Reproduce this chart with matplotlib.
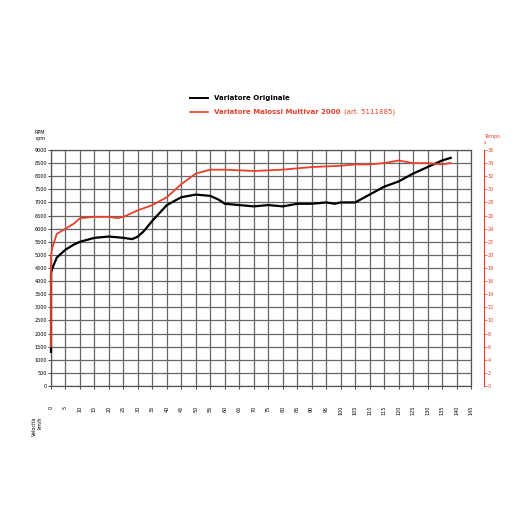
import matplotlib
matplotlib.use("Agg")
import matplotlib.pyplot as plt
from matplotlib.transforms import offset_copy

speed_black = [0,0,0.5,2,5,8,10,15,20,25,28,30,32,35,40,45,50,55,58,60,65,70,75,80,85,90,95,98,100,105,110,115,120,125,130,135,138]
rpm_black = [1300,4300,4500,4900,5200,5400,5500,5650,5700,5650,5600,5700,5900,6300,6900,7200,7300,7250,7100,6950,6900,6850,6900,6850,6950,6950,7000,6950,7000,7000,7300,7600,7800,8100,8350,8600,8700]
speed_red = [0,0,0.5,2,5,8,10,15,20,23,25,30,35,40,45,50,55,60,70,80,90,100,105,110,115,120,125,130,135,138]
rpm_red = [1500,5000,5300,5800,6000,6200,6400,6450,6450,6400,6450,6700,6900,7200,7700,8100,8250,8250,8200,8250,8350,8400,8450,8450,8500,8600,8500,8500,8450,8500]
x_ticks = list(range(0,150,5))
rpm_ticks = list(range(0,9001,500))
tempo_ticks = list(range(0,37,2))

fig = plt.figure(figsize=(5.2,5.2), dpi=100)
ax = fig.add_axes([51/520, 1-386/520, 420/520, 236/520])
ax.plot(speed_black, rpm_black, color='black', lw=1.6, clip_on=False, zorder=5)
ax.plot(speed_red, rpm_red, color='#e8402a', lw=1.3, clip_on=False, zorder=5)
ax.set_xlim(0,145); ax.set_ylim(0,9000)
ax.set_xticks(x_ticks); ax.set_yticks(rpm_ticks)
ax.set_xticklabels([str(v) for v in x_ticks], rotation=90, fontsize=3.5)
ax.set_yticklabels([str(v) for v in rpm_ticks], fontsize=3.5)
ax.grid(True, color='#666666', lw=0.9)
for s in ax.spines.values(): s.set_color('#555555'); s.set_linewidth(0.9)
ax.tick_params(length=2, width=0.5, pad=1)
ax.tick_params(axis='x', pad=12)
ax.text(-2, 9350, 'RPM\nrpm', fontsize=3.5, ha='right', va='bottom')
ax.text(-3, -1150, 'Velocità\nkm/h', fontsize=3.5, rotation=90, ha='right', va='top')

ax2 = ax.twinx()
ax2.set_ylim(0,36); ax2.set_yticks(tempo_ticks)
ax2.set_yticklabels([str(v) for v in tempo_ticks])
ax2.spines['right'].set_position(('outward', 9))
ax2.spines['right'].set_color('#e8402a')
for k in ['top','left','bottom']: ax2.spines[k].set_visible(False)
ax2.tick_params(axis='y', colors='#e8402a', length=2, width=0.5, pad=1, labelsize=3.5)
ax2.text(1.03, 1.02, 'Tempo\ns', transform=ax.transAxes, fontsize=3.5, color='#e8402a', va='bottom')

fig.lines.append(plt.Line2D([190/520, 208/520], [1-98/520]*2, color='black', lw=1.4, transform=fig.transFigure))
fig.lines.append(plt.Line2D([190/520, 208/520], [1-112/520]*2, color='#e8402a', lw=1.2, transform=fig.transFigure))
fig.text(214/520, 1-98/520, 'Variatore Originale', fontsize=5, weight='bold', va='center')
t = fig.text(214/520, 1-112/520, 'Variatore Malossi Multivar 2000', fontsize=5, weight='bold', color='#e8402a', va='center')
fig.canvas.draw()
bb = t.get_window_extent()
fig.text((bb.x1 + 3)/520, 1-112/520, '(art. 5111885)', fontsize=5, color='#e8402a', va='center')
fig.savefig('out.png', dpi=100)
